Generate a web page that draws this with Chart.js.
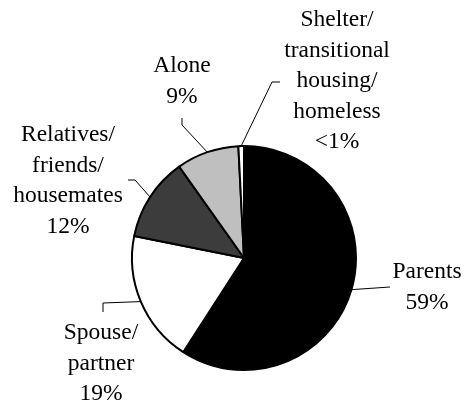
<!DOCTYPE html>
<html>
<head>
<meta charset="utf-8">
<script src="https://cdn.jsdelivr.net/npm/chart.js@4.4.0/dist/chart.umd.min.js"></script>
<style>
  html, body { margin: 0; padding: 0; background: #fff; }
  #wrap { width: 467px; height: 404px; }
</style>
</head>
<body>
<div id="wrap"><canvas id="canvas" width="467" height="404"></canvas></div>
<script>
// data
var categories = ["Parents", "Spouse/partner", "Relatives/friends/housemates", "Alone", "Shelter/transitional housing/homeless"];
var shares = [59, 19, 12, 9, 0.8];
var shareLabels = ["59%", "19%", "12%", "9%", "<1%"];
var nameLines = [["Parents"], ["Spouse/", "partner"], ["Relatives/", "friends/", "housemates"], ["Alone"], ["Shelter/", "transitional", "housing/", "homeless"]];
var sliceColors = ["#000000", "#ffffff", "#3c3c3c", "#bfbfbf", "#ffffff"];

// where each label block sits (center x, middle of first line) and its leader line bend/end
var labelAt = [[427, 272], [101, 333], [68, 135], [182, 66], [337, 20]];
var leaderBend = [null, [103, 303], [135, 180], [182, 125], [272, 82]];
var leaderEnd = [[390, 287], [103, 312], [128, 180], [182, 118], [280, 82]];

var outsideLabels = {
	id: 'outsideLabels',
	afterDraw: function(chart) {
		var ctx = chart.ctx;
		var arcs = chart.getDatasetMeta(0).data;
		ctx.save();
		// leader lines
		ctx.strokeStyle = '#000';
		ctx.lineWidth = 1;
		arcs.forEach(function(arc, i) {
			var p = arc.getProps(['x', 'y', 'startAngle', 'endAngle', 'outerRadius'], true);
			var mid = (p.startAngle + p.endAngle) / 2;
			var ex = p.x + Math.cos(mid) * p.outerRadius;
			var ey = p.y + Math.sin(mid) * p.outerRadius;
			ctx.beginPath();
			ctx.moveTo(ex, ey);
			if (leaderBend[i]) ctx.lineTo(leaderBend[i][0], leaderBend[i][1]);
			ctx.lineTo(leaderEnd[i][0], leaderEnd[i][1]);
			ctx.stroke();
		});
		// text
		ctx.fillStyle = '#000';
		ctx.font = '23.5px "Liberation Serif"';
		ctx.textAlign = 'center';
		ctx.textBaseline = 'middle';
		var lh = 30.5;
		nameLines.forEach(function(lines, i) {
			var all = lines.concat([shareLabels[i]]);
			all.forEach(function(t, k) {
				ctx.fillText(t, labelAt[i][0], labelAt[i][1] + k * lh);
			});
		});
		ctx.restore();
	}
};

var ctx = document.getElementById('canvas').getContext('2d');
var chart = new Chart(ctx, {
	type: 'pie',
	data: {
		labels: categories,
		datasets: [{
			data: shares,
			backgroundColor: sliceColors,
			borderColor: '#000',
			borderWidth: 2
		}]
	},
	options: {
		responsive: false,
		animation: false,
		radius: 112,
		layout: { padding: { left: 21, right: 0, top: 112, bottom: 0 } },
		plugins: {
			legend: { display: false },
			tooltip: { enabled: false }
		}
	},
	plugins: [outsideLabels]
});
</script>
</body>
</html>
